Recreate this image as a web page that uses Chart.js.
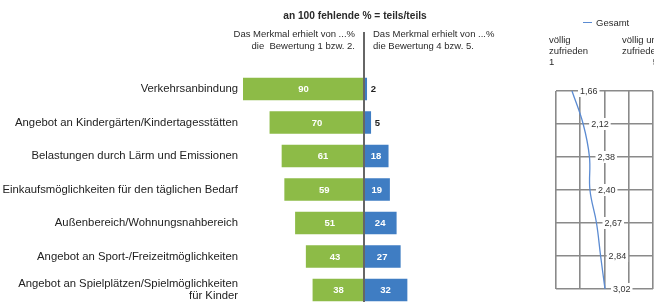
<!DOCTYPE html>
<html lang="de">
<head>
<meta charset="utf-8">
<title>Bewertung Wohnumfeld</title>
<script src="https://cdn.jsdelivr.net/npm/chart.js@4/dist/chart.umd.min.js"></script>
<style>
    html, body { margin: 0; padding: 0; background: #fff; }
    body { font-family: "Liberation Sans", Arial, sans-serif; color: #2a2a2a; }
    #wrap { position: relative; width: 654px; height: 302px; overflow: hidden; }
    #balken { position: absolute; left: 0; top: 0; }
    #linie { position: absolute; left: 460px; top: 0; }
    .txt { position: absolute; white-space: nowrap; font-size: 9.5px; line-height: 12px; }
    .titel { left: 255px; width: 200px; top: 10px; text-align: center; font-weight: bold; font-size: 10.2px; }
    .links { right: 299px; top: 28px; text-align: right; }
    .rechts { left: 373px; top: 28px; }
    .legende { left: 583px; top: 17px; }
    .legende i { display: inline-block; width: 9px; height: 0; border-top: 1.5px solid #5b8bd2; vertical-align: middle; margin-right: 4px; margin-top: -2px; }
    .spalte1 { left: 549px; top: 34px; line-height: 11px; }
    .spalte5 { left: 622px; width: 36px; top: 34px; line-height: 11px; text-align: right; }
</style>
</head>
<body>
<div id="wrap">
    <canvas id="balken" width="460" height="320"></canvas>
    <canvas id="linie" width="194" height="302"></canvas>
    <div class="txt titel">an 100 fehlende % = teils/teils</div>
    <div class="txt links">Das Merkmal erhielt von ...%<br>die&nbsp; Bewertung 1 bzw. 2.</div>
    <div class="txt rechts">Das Merkmal erhielt von ...%<br>die Bewertung 4 bzw. 5.</div>
    <div class="txt legende"><i></i>Gesamt</div>
    <div class="txt spalte1">völlig<br>zufrieden<br>1</div>
    <div class="txt spalte5">völlig un-<br>zufrieden<br>5</div>
</div>
<script>
(function () {
    'use strict';

    const kategorien = [
        'Verkehrsanbindung',
        'Angebot an Kindergärten/Kindertagesstätten',
        'Belastungen durch Lärm und Emissionen',
        'Einkaufsmöglichkeiten für den täglichen Bedarf',
        'Außenbereich/Wohnungsnahbereich',
        'Angebot an Sport-/Freizeitmöglichkeiten',
        ['Angebot an Spielplätzen/Spielmöglichkeiten', 'für Kinder']
    ];
    // Bewertung 1 bzw. 2 (in %)
    const zufrieden = [90, 70, 61, 59, 51, 43, 38];
    // Bewertung 4 bzw. 5 (in %)
    const unzufrieden = [2, 5, 18, 19, 24, 27, 32];
    // Mittelwert der Bewertung, Gesamt
    const mittelwerte = [1.66, 2.12, 2.38, 2.40, 2.67, 2.84, 3.02];
    const skala = [1, 2, 3, 4, 5];

    const schrift = '"Liberation Sans", Arial, sans-serif';

    const nullLinie = {
        id: 'nullLinie',
        afterDatasetsDraw(chart) {
            const ctx = chart.ctx;
            const x = chart.scales.x.getPixelForValue(0);
            ctx.save();
            ctx.strokeStyle = '#666';
            ctx.lineWidth = 2;
            ctx.beginPath();
            ctx.moveTo(x, 32);
            ctx.lineTo(x, chart.height);
            ctx.stroke();
            ctx.restore();
        }
    };

    const balkenWerte = {
        id: 'balkenWerte',
        afterDraw(chart) {
            const ctx = chart.ctx;
            ctx.save();
            ctx.font = 'bold 9.5px ' + schrift;
            ctx.textBaseline = 'middle';
            chart.data.datasets.forEach((ds, di) => {
                chart.getDatasetMeta(di).data.forEach((bar, i) => {
                    const wert = Math.abs(ds.data[i]);
                    const breite = Math.abs(bar.x - bar.base);
                    if (breite > 16) {
                        ctx.fillStyle = '#fff';
                        ctx.textAlign = 'center';
                        ctx.fillText(wert, (bar.x + bar.base) / 2, bar.y + 0.5);
                    } else {
                        ctx.fillStyle = '#222';
                        ctx.textAlign = 'left';
                        ctx.fillText(wert, bar.x + 4, bar.y + 0.5);
                    }
                });
            });
            ctx.restore();
        }
    };

    const punktWerte = {
        id: 'punktWerte',
        afterDatasetsDraw(chart) {
            const ctx = chart.ctx;
            const meta = chart.getDatasetMeta(0);
            ctx.save();
            ctx.font = '9px ' + schrift;
            ctx.textBaseline = 'middle';
            ctx.textAlign = 'left';
            meta.data.forEach((pt, i) => {
                const txt = mittelwerte[i].toFixed(2).replace('.', ',');
                const w = ctx.measureText(txt).width;
                const x = pt.x + 8;
                ctx.fillStyle = '#fff';
                ctx.fillRect(x - 2, pt.y - 6, w + 4, 12);
                ctx.fillStyle = '#333';
                ctx.fillText(txt, x, pt.y + 0.5);
            });
            ctx.restore();
        }
    };

    function zeichneBalken() {
        new Chart(document.getElementById('balken'), {
            type: 'bar',
            data: {
                labels: kategorien,
                datasets: [{
                    label: 'Bewertung 1 bzw. 2',
                    data: zufrieden.map(v => -v),
                    backgroundColor: '#8dbb47',
                    barThickness: 22
                }, {
                    label: 'Bewertung 4 bzw. 5',
                    data: unzufrieden,
                    backgroundColor: '#3f7dc3',
                    barThickness: 22
                }]
            },
            options: {
                indexAxis: 'y',
                responsive: false,
                animation: false,
                layout: { padding: { top: 72.25, bottom: 13.25, left: 0, right: 0 } },
                plugins: { legend: { display: false }, tooltip: { enabled: false } },
                scales: {
                    x: { stacked: true, min: -90, max: 71.4, display: false },
                    y: {
                        stacked: true,
                        grid: { display: false, drawTicks: false },
                        border: { display: false },
                        ticks: { padding: 5, color: '#222', font: { family: schrift, size: 11.3, lineHeight: 1 } },
                        afterFit(s) { s.width = 243; }
                    }
                }
            },
            plugins: [nullLinie, balkenWerte]
        });
    }

    function zeichneLinie() {
        const gitter = { color: '#8a8a8a', lineWidth: 1.6, drawTicks: false };
        new Chart(document.getElementById('linie'), {
            type: 'line',
            data: {
                labels: kategorien,
                datasets: [{
                    label: 'Gesamt',
                    data: mittelwerte,
                    borderColor: '#5b8bd2',
                    borderWidth: 1.3,
                    pointRadius: 0,
                    tension: 0.4,
                    fill: false,
                    clip: false
                }]
            },
            options: {
                indexAxis: 'y',
                responsive: false,
                animation: false,
                layout: { padding: { top: 91, bottom: 13, left: 0, right: 1 } },
                plugins: { legend: { display: false }, tooltip: { enabled: false } },
                scales: {
                    x: {
                        type: 'linear', min: skala[0], max: skala[skala.length - 1],
                        afterBuildTicks(s) { s.ticks = skala.map(v => ({ value: v })); },
                        ticks: { display: false },
                        grid: gitter,
                        border: { display: false },
                        afterFit(s) { s.height = 0; }
                    },
                    y: {
                        type: 'category', offset: false,
                        ticks: { display: false },
                        grid: gitter,
                        border: { display: false },
                        afterFit(s) { s.width = 96; }
                    }
                }
            },
            plugins: [punktWerte]
        });
    }

    document.addEventListener('DOMContentLoaded', () => {
        zeichneBalken();
        zeichneLinie();
    });
})();
</script>
</body>
</html>
